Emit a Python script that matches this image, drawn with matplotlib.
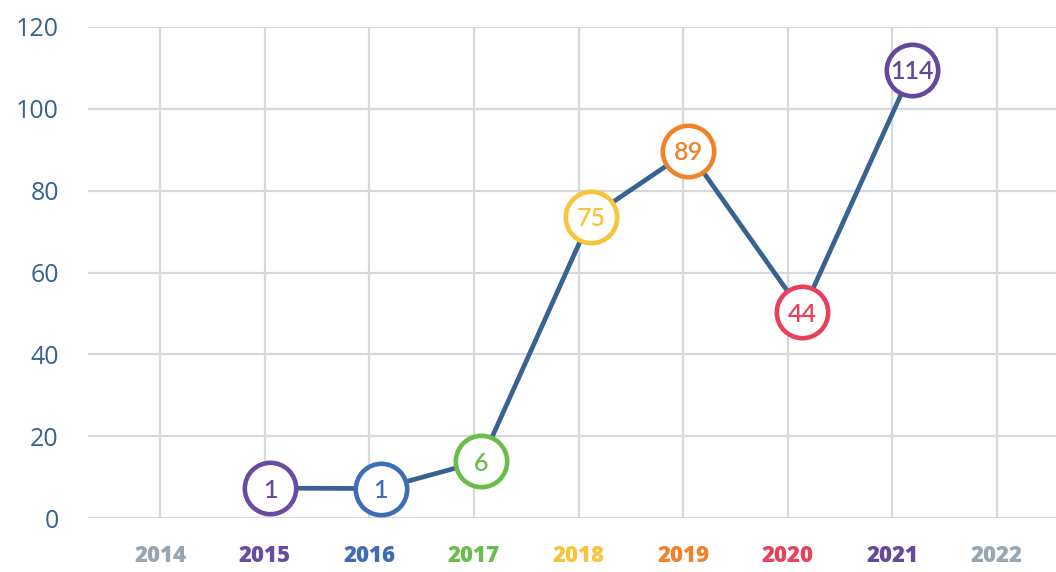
import numpy as np
import matplotlib.pyplot as plt

# --------------------------------------------
# DATA
# --------------------------------------------

years = [2014, 2015, 2016, 2017, 2018, 2019, 2020, 2021, 2022]
year_colors = ["#97a6b2", "#6a4c9e", "#3f6db5", "#6abd4c", "#f8c43b",
               "#f0832a", "#e8415b", "#63489b", "#97a6b2"]

# points as drawn in the chart (x slightly off the year gridlines)
point_x = [2015.05, 2016.11, 2017.07, 2018.12, 2019.05, 2020.14, 2021.19]
point_y = [7.3, 7.2, 13.9, 73.6, 89.7, 50.3, 109.5]
point_labels = ["1", "1", "6", "75", "89", "44", "114"]
point_colors = ["#6a4c9e", "#3f6db5", "#6abd4c", "#f8c43b",
                "#f0832a", "#e8415b", "#63489b"]

y_ticks = [0, 20, 40, 60, 80, 100, 120]

line_color = "#36638f"
grid_color = "#d6d9dc"
tick_color = "#3a6190"

plt.rcParams['font.family'] = ['Open Sans', 'DejaVu Sans']

fig = plt.figure(figsize=(10.56, 5.72), dpi=100)
ax = fig.add_axes([88/1056, 54/572, 1 - 88/1056, 491/572])

ax.set_xlim(2014 - 0.69, 2022 + 0.565)
ax.set_ylim(0, 120)

ax.set_xticks(years)
ax.set_yticks(y_ticks)
ax.grid(True, color=grid_color, linewidth=1.6)
ax.set_axisbelow(True)
for s in ax.spines.values():
    s.set_visible(False)

ax.tick_params(axis="both", length=0)
ax.tick_params(axis="y", pad=21, labelsize=18, labelcolor=tick_color)
ax.tick_params(axis="x", pad=19)
ax.set_xticklabels([str(y) for y in years], fontsize=16, fontweight="heavy")
for lab, c in zip(ax.get_xticklabels(), year_colors):
    lab.set_color(c)

# connecting line
ax.plot(point_x, point_y, color=line_color, linewidth=3.4, zorder=2,
        solid_capstyle="round")

# circles with labels
for x, y, t, c in zip(point_x, point_y, point_labels, point_colors):
    ax.plot(x, y, marker="o", markersize=37, markerfacecolor="white",
            markeredgecolor=c, markeredgewidth=3.3, zorder=3, clip_on=False)
    ax.text(x, y, t, color=c, fontsize=18, fontweight="semibold",
            family=["Lato", "DejaVu Sans"],
            ha="center", va="center_baseline", zorder=4)

fig.savefig("out.png", dpi=100)
